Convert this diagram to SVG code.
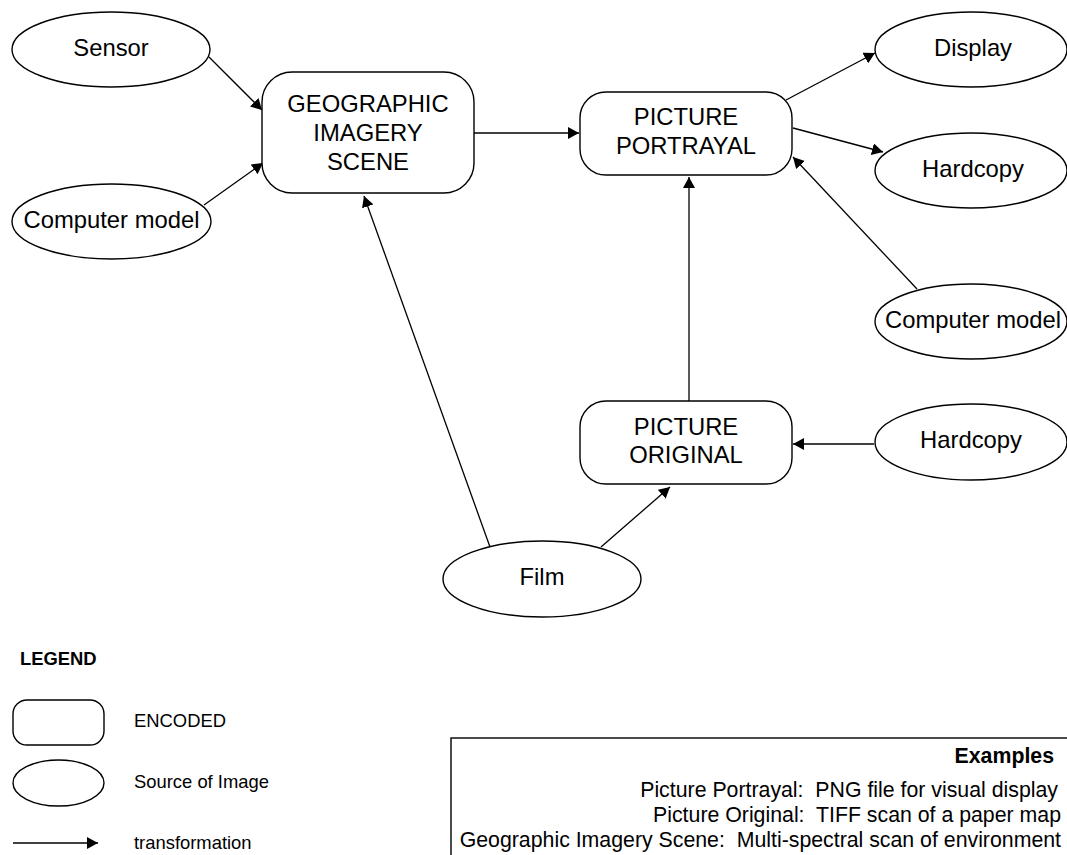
<svg xmlns="http://www.w3.org/2000/svg" width="1067" height="855" viewBox="0 0 1067 855">
  <defs>
    <marker id="arrow" markerUnits="userSpaceOnUse" markerWidth="12" markerHeight="12" refX="11" refY="6" orient="auto">
      <path d="M0,0 L11,6 L0,12 z" fill="#000"/>
    </marker>
    <style>
      .box { fill: #fff; stroke: #000; stroke-width: 1.4; }
      .edge { stroke: #000; stroke-width: 1.3; fill: none; marker-end: url(#arrow); }
      .lbl { font-family: "Liberation Sans", Arial, sans-serif; font-size: 23.8px; fill: #000; text-anchor: middle; }
      .leg { font-family: "Liberation Sans", Arial, sans-serif; font-size: 18.4px; fill: #000; }
      .ex { font-family: "Liberation Sans", Arial, sans-serif; font-size: 21.3px; fill: #000; text-anchor: end; white-space: pre; }
      .bold { font-weight: bold; }
    </style>
  </defs>
  <rect width="1067" height="855" fill="#fff"/>

  <!-- connectors -->
  <g id="connectors">
    <line class="edge" x1="209" y1="57" x2="262" y2="110"/>
    <line class="edge" x1="204" y1="205" x2="263" y2="163"/>
    <line class="edge" x1="474" y1="133" x2="579" y2="133"/>
    <line class="edge" x1="490" y1="547" x2="364" y2="196"/>
    <line class="edge" x1="601" y1="547" x2="670" y2="487"/>
    <line class="edge" x1="689" y1="401" x2="689" y2="177"/>
    <line class="edge" x1="874" y1="444" x2="793" y2="444"/>
    <line class="edge" x1="786" y1="100" x2="875" y2="53"/>
    <line class="edge" x1="793" y1="128" x2="883" y2="152"/>
    <line class="edge" x1="917" y1="289" x2="793" y2="157"/>
  </g>

  <!-- source ellipses -->
  <g id="sensor">
    <ellipse class="box" cx="111" cy="49.5" rx="99" ry="37.5"/>
    <text class="lbl" x="111" y="56">Sensor</text>
  </g>
  <g id="computer-model-left">
    <ellipse class="box" cx="111.5" cy="221.5" rx="99.5" ry="37.5"/>
    <text class="lbl" x="111.5" y="228">Computer model</text>
  </g>
  <g id="display">
    <ellipse class="box" cx="971" cy="49.5" rx="96" ry="37.5"/>
    <text class="lbl" x="973" y="56">Display</text>
  </g>
  <g id="hardcopy-top">
    <ellipse class="box" cx="971" cy="170.5" rx="96" ry="37.5"/>
    <text class="lbl" x="973" y="177">Hardcopy</text>
  </g>
  <g id="computer-model-right">
    <ellipse class="box" cx="971" cy="321.5" rx="96" ry="37.5"/>
    <text class="lbl" x="973" y="328">Computer model</text>
  </g>
  <g id="hardcopy-bottom">
    <ellipse class="box" cx="971" cy="442" rx="96" ry="38"/>
    <text class="lbl" x="971" y="448">Hardcopy</text>
  </g>
  <g id="film">
    <ellipse class="box" cx="542" cy="579" rx="99" ry="38"/>
    <text class="lbl" x="542" y="585">Film</text>
  </g>

  <!-- encoded boxes -->
  <g id="geographic-imagery-scene">
    <rect class="box" x="262" y="72" width="212" height="121" rx="30" ry="30"/>
    <text class="lbl" x="368" y="112">GEOGRAPHIC</text>
    <text class="lbl" x="368" y="141">IMAGERY</text>
    <text class="lbl" x="368" y="170">SCENE</text>
  </g>
  <g id="picture-portrayal">
    <rect class="box" x="580" y="92" width="212" height="83" rx="26" ry="26"/>
    <text class="lbl" x="686" y="125">PICTURE</text>
    <text class="lbl" x="686" y="154">PORTRAYAL</text>
  </g>
  <g id="picture-original">
    <rect class="box" x="580" y="401" width="212" height="83" rx="26" ry="26"/>
    <text class="lbl" x="686" y="435">PICTURE</text>
    <text class="lbl" x="686" y="463">ORIGINAL</text>
  </g>

  <!-- legend -->
  <g id="legend">
    <text class="leg bold" x="20" y="665">LEGEND</text>
    <rect class="box" x="13" y="700" width="91" height="45" rx="14" ry="14"/>
    <text class="leg" x="134" y="727">ENCODED</text>
    <ellipse class="box" cx="58.5" cy="783" rx="45.5" ry="23"/>
    <text class="leg" x="134" y="788">Source of Image</text>
    <line class="edge" x1="13" y1="843" x2="98" y2="843"/>
    <text class="leg" x="134" y="849">transformation</text>
  </g>

  <!-- examples panel -->
  <g id="examples">
    <rect class="box" x="451" y="738" width="630" height="130"/>
    <text class="ex bold" x="1054" y="763">Examples</text>
    <text class="ex" x="1058" y="797" xml:space="preserve">Picture Portrayal:  PNG file for visual display</text>
    <text class="ex" x="1061" y="822" xml:space="preserve">Picture Original:  TIFF scan of a paper map</text>
    <text class="ex" x="1061" y="847" xml:space="preserve">Geographic Imagery Scene:  Multi-spectral scan of environment</text>
  </g>
</svg>
